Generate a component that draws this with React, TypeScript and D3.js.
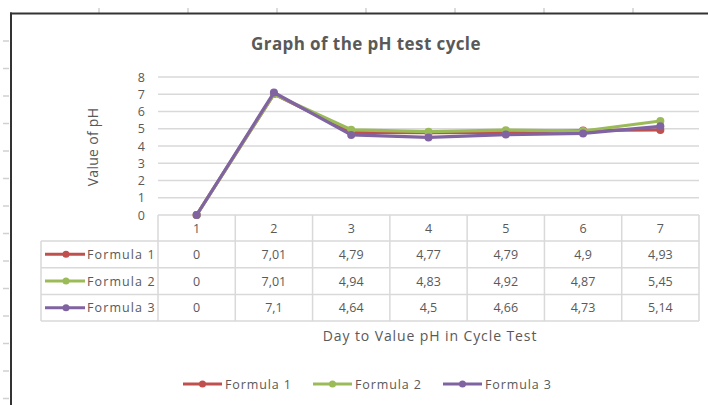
import React from "react";
import * as d3 from "d3";

const categories = ["1", "2", "3", "4", "5", "6", "7"];
const seriesNames = ["Formula 1", "Formula 2", "Formula 3"];
const formula1 = [0, 7.01, 4.79, 4.77, 4.79, 4.9, 4.93];
const formula2 = [0, 7.01, 4.94, 4.83, 4.92, 4.87, 5.45];
const formula3 = [0, 7.1, 4.64, 4.5, 4.66, 4.73, 5.14];
const yTicks = [0, 1, 2, 3, 4, 5, 6, 7, 8];
const colors = ["#c0504d", "#9bbb59", "#8064a2"];

const W = 708;
const H = 405;
const FONT = "'Open Sans', 'Noto Sans', sans-serif";
const TXT = "#595959";
const GRID = "#d9d9d9";

export default function App() {
  const series = [formula1, formula2, formula3];
  const x = d3.scaleBand<string>().domain(categories).range([158, 699]);
  const y = d3.scaleLinear().domain([0, 8]).range([215, 77]);
  const line = d3
    .line<number>()
    .x((_, i) => (x(categories[i]) as number) + x.bandwidth() / 2)
    .y((d) => y(d));

  const fmt = (v: number) => String(v).replace(".", ",");

  const tableTop = 215;
  const headerH = 26;
  const rowH = 26.7;
  const tableLeft = 41;
  const rowsBottom = tableTop + headerH + rowH * 3;

  const topTicks = d3.range(7).map((i) => 99 + i * 89);
  const leftTicks = d3.range(14).map((i) => 41 + i * 27.5);

  return (
    <svg
      width={W}
      height={H}
      style={{ position: "absolute", left: 0, top: 0, background: "#fff" }}
      fontFamily={FONT}
    >
      <rect x={0} y={0} width={W} height={H} fill="#fff" />
      {/* spreadsheet decorations */}
      {topTicks.map((t) => (
        <line key={"tt" + t} x1={t} x2={t} y1={8} y2={13} stroke="#d0d0d0" strokeWidth={1.5} />
      ))}
      {leftTicks.map((t) => (
        <line key={"lt" + t} x1={3} x2={9} y1={t} y2={t} stroke="#d0d0d0" strokeWidth={1.5} />
      ))}
      <line x1={10} x2={W} y1={13.5} y2={13.5} stroke="#333" strokeWidth={2} />
      <line x1={11} x2={11} y1={12.5} y2={H} stroke="#333" strokeWidth={2} />

      {/* title */}
      <text x={366} y={50} textAnchor="middle" fontSize={17} fontWeight="bold" fill={TXT} letterSpacing={0.4}>
        Graph of the pH test cycle
      </text>

      {/* gridlines */}
      {yTicks.slice(1).map((t) => (
        <line key={"g" + t} x1={158} x2={699} y1={y(t)} y2={y(t)} stroke={GRID} strokeWidth={1.5} />
      ))}
      {yTicks.map((t) => (
        <text key={"yt" + t} x={145} y={y(t) + 4.5} textAnchor="end" fontSize={12.5} fill={TXT}>
          {t}
        </text>
      ))}
      <text
        transform={`translate(98,147) rotate(-90)`}
        textAnchor="middle"
        fontSize={14}
        fill={TXT}
        letterSpacing={0.3}
      >
        Value of pH
      </text>

      {/* data table */}
      <g stroke={GRID} strokeWidth={1.5} fill="none">
        <line x1={158} x2={699} y1={tableTop} y2={tableTop} />
        <line x1={tableLeft} x2={699} y1={tableTop + headerH} y2={tableTop + headerH} />
        {[1, 2, 3].map((r) => (
          <line
            key={"rl" + r}
            x1={tableLeft}
            x2={699}
            y1={tableTop + headerH + rowH * r}
            y2={tableTop + headerH + rowH * r}
          />
        ))}
        <line x1={tableLeft} x2={tableLeft} y1={tableTop + headerH} y2={rowsBottom} />
        {categories.map((c) => (
          <line
            key={"vl" + c}
            x1={x(c) as number}
            x2={x(c) as number}
            y1={tableTop}
            y2={rowsBottom}
          />
        ))}
        <line x1={699} x2={699} y1={tableTop} y2={rowsBottom} />
      </g>
      {categories.map((c) => (
        <text
          key={"ct" + c}
          x={(x(c) as number) + x.bandwidth() / 2}
          y={tableTop + 18}
          textAnchor="middle"
          fontSize={12.5}
          fill={TXT}
        >
          {c}
        </text>
      ))}
      {series.map((s, si) => {
        const cy = tableTop + headerH + rowH * si + rowH / 2;
        return (
          <g key={"row" + si}>
            <line x1={45} x2={85} y1={cy} y2={cy} stroke={colors[si]} strokeWidth={3} />
            <circle cx={66} cy={cy} r={3.5} fill={colors[si]} />
            <text x={87} y={cy + 4.5} fontSize={12.5} fill={TXT} letterSpacing={1.1}>
              {seriesNames[si]}
            </text>
            {s.map((v, i) => (
              <text
                key={"v" + i}
                x={(x(categories[i]) as number) + x.bandwidth() / 2}
                y={cy + 4.5}
                textAnchor="middle"
                fontSize={12.5}
                fill={TXT}
              >
                {fmt(v)}
              </text>
            ))}
          </g>
        );
      })}

      {/* axis title */}
      <text x={430} y={341} textAnchor="middle" fontSize={14} fill={TXT} letterSpacing={0.9}>
        Day to Value pH in Cycle Test
      </text>

      {/* series lines */}
      {series.map((s, si) => (
        <g key={"s" + si}>
          <path d={line(s) as string} fill="none" stroke={colors[si]} strokeWidth={3.2} strokeLinejoin="round" />
          {s.map((v, i) => (
            <circle
              key={"m" + i}
              cx={(x(categories[i]) as number) + x.bandwidth() / 2}
              cy={y(v)}
              r={4}
              fill={colors[si]}
            />
          ))}
        </g>
      ))}

      {/* legend */}
      {seriesNames.map((n, i) => {
        const lx = 183 + i * 130;
        const ly = 384;
        return (
          <g key={"lg" + i}>
            <line x1={lx} x2={lx + 39} y1={ly} y2={ly} stroke={colors[i]} strokeWidth={3} />
            <circle cx={lx + 19.5} cy={ly} r={3.5} fill={colors[i]} />
            <text x={lx + 42} y={ly + 4.5} fontSize={12.5} fill={TXT} letterSpacing={0.9}>
              {n}
            </text>
          </g>
        );
      })}
    </svg>
  );
}
